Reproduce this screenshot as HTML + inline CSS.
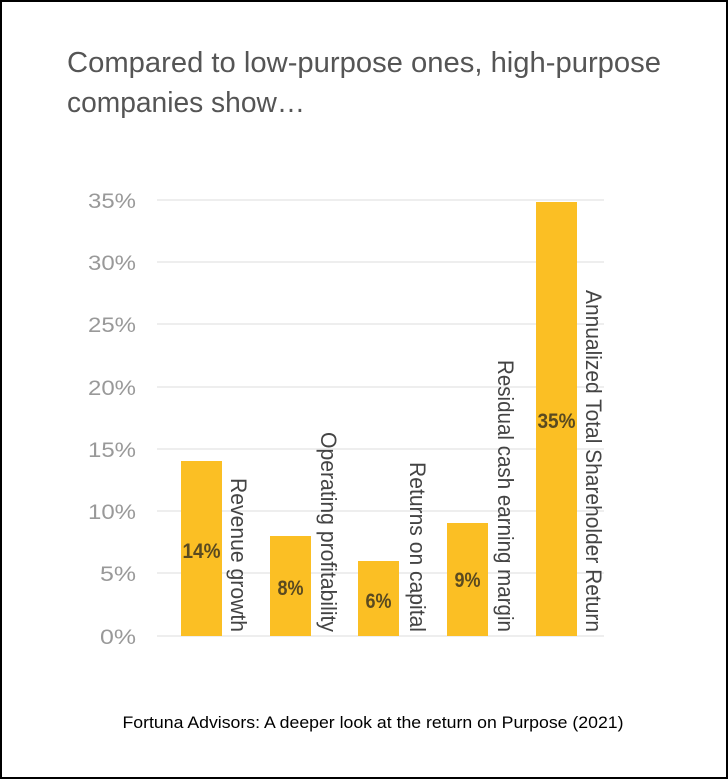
<!DOCTYPE html>
<html><head><meta charset="utf-8"><style>
html,body{margin:0;padding:0;background:#fff}
svg{display:block}
text{font-family:"Liberation Sans",Arial,sans-serif}
</style></head><body>
<svg width="728" height="779" viewBox="0 0 728 779">
<rect x="1" y="1" width="726" height="777" fill="#fff" stroke="#000" stroke-width="2"/>
<text x="67" y="72" font-size="29" fill="#555" textLength="594" lengthAdjust="spacingAndGlyphs">Compared to low-purpose ones, high-purpose</text>
<text x="67" y="112" font-size="29" fill="#555" textLength="238" lengthAdjust="spacingAndGlyphs">companies show…</text>
<g stroke="#e8e8e8" stroke-width="1.5">
<line x1="157" y1="200" x2="604" y2="200"/>
<line x1="157" y1="262" x2="604" y2="262"/>
<line x1="157" y1="324" x2="604" y2="324"/>
<line x1="157" y1="387" x2="604" y2="387"/>
<line x1="157" y1="449" x2="604" y2="449"/>
<line x1="157" y1="511" x2="604" y2="511"/>
<line x1="157" y1="573" x2="604" y2="573"/>
<line x1="157" y1="636" x2="604" y2="636"/>
</g>
<g font-size="21" fill="#999" text-anchor="end">
<text x="136" y="208" textLength="48" lengthAdjust="spacingAndGlyphs">35%</text>
<text x="136" y="270" textLength="48" lengthAdjust="spacingAndGlyphs">30%</text>
<text x="136" y="332" textLength="48" lengthAdjust="spacingAndGlyphs">25%</text>
<text x="136" y="395" textLength="48" lengthAdjust="spacingAndGlyphs">20%</text>
<text x="136" y="457" textLength="48" lengthAdjust="spacingAndGlyphs">15%</text>
<text x="136" y="519" textLength="48" lengthAdjust="spacingAndGlyphs">10%</text>
<text x="136" y="581" textLength="36" lengthAdjust="spacingAndGlyphs">5%</text>
<text x="136" y="644" textLength="36" lengthAdjust="spacingAndGlyphs">0%</text>
</g>
<g fill="#fbbf24">
<rect x="181" y="461" width="41" height="175"/>
<rect x="270" y="536" width="41" height="100"/>
<rect x="358" y="561" width="41" height="75"/>
<rect x="447" y="523" width="41" height="113"/>
<rect x="536" y="202" width="41" height="434"/>
</g>
<g font-size="21" font-weight="bold" fill="#5a4a20" text-anchor="middle">
<text x="201.5" y="558" textLength="38" lengthAdjust="spacingAndGlyphs">14%</text>
<text x="290.5" y="595" textLength="26" lengthAdjust="spacingAndGlyphs">8%</text>
<text x="378.5" y="608" textLength="26" lengthAdjust="spacingAndGlyphs">6%</text>
<text x="467.5" y="587" textLength="26" lengthAdjust="spacingAndGlyphs">9%</text>
<text x="556.5" y="428" textLength="38" lengthAdjust="spacingAndGlyphs">35%</text>
</g>
<g font-size="22" fill="#444" text-anchor="end">
<text transform="translate(231,632) rotate(90)" textLength="154" lengthAdjust="spacingAndGlyphs">Revenue growth</text>
<text transform="translate(321,632) rotate(90)" textLength="200" lengthAdjust="spacingAndGlyphs">Operating profitability</text>
<text transform="translate(410,632) rotate(90)" textLength="170" lengthAdjust="spacingAndGlyphs">Returns on capital</text>
<text transform="translate(498,632) rotate(90)" textLength="272" lengthAdjust="spacingAndGlyphs">Residual cash earning margin</text>
<text transform="translate(586,632) rotate(90)" textLength="342" lengthAdjust="spacingAndGlyphs">Annualized Total Shareholder Return</text>
</g>
<text x="373" y="728" font-size="17" fill="#000" text-anchor="middle" textLength="501" lengthAdjust="spacingAndGlyphs">Fortuna Advisors: A deeper look at the return on Purpose (2021)</text>
</svg>
</body></html>
